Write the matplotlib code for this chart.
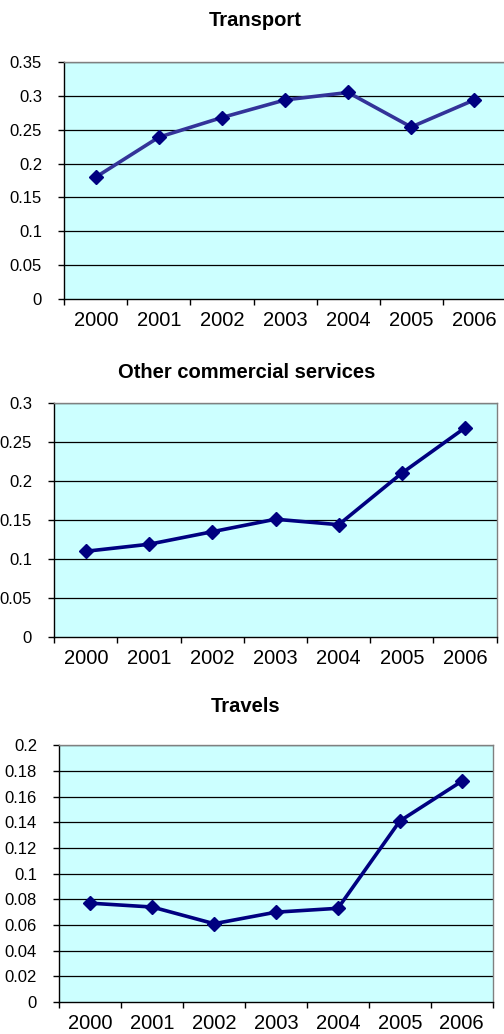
import numpy as np
import matplotlib.pyplot as plt

plt.rcParams['font.family'] = ['Liberation Sans', 'DejaVu Sans']

years = ['2000', '2001', '2002', '2003', '2004', '2005', '2006']

transport = [0.18, 0.239, 0.268, 0.294, 0.305, 0.254, 0.294]
other_services = [0.11, 0.119, 0.135, 0.151, 0.144, 0.21, 0.268]
travels = [0.077, 0.074, 0.061, 0.07, 0.073, 0.141, 0.172]

titles = ['Transport', 'Other commercial services', 'Travels']
series = [transport, other_services, travels]
y_max = [0.35, 0.3, 0.2]
y_step = [0.05, 0.05, 0.02]
line_colors = ['#333399', '#000080', '#000080']

W, H = 504, 1034
# plot area boxes in pixels: left, right, top, bottom
boxes = [(64.3, 505.8, 62, 299),
         (54.3, 496.7, 402.7, 637.3),
         (59.3, 492.7, 745.3, 1002)]
title_pos = [(255, 20), (247, 372), (246, 706)]

fig = plt.figure(figsize=(W / 100, H / 100), dpi=100)

for i in range(3):
    l, r, t, b = boxes[i]
    ax = fig.add_axes([l / W, 1 - b / H, (r - l) / W, (b - t) / H])
    ax.set_facecolor('#ccffff')
    x = np.arange(len(years))
    ax.plot(x, series[i], color=line_colors[i], lw=2.6, marker='D',
            markersize=7.5, markerfacecolor='#000080', markeredgecolor='#000080',
            zorder=3)
    ax.set_xlim(-0.5, len(years) - 0.5)
    ax.set_ylim(0, y_max[i])
    yt = np.round(np.arange(0, y_max[i] + 1e-9, y_step[i]), 3)
    ax.set_yticks(yt)
    ax.set_yticklabels([f'{v:g}' for v in yt])
    for v in yt[1:]:
        ax.axhline(v, color='#000000', lw=0.9, zorder=1)
    ax.set_xticks(x)
    ax.set_xticklabels(years)
    ax.set_xticks(np.arange(-0.5, len(years)), minor=True)
    ax.tick_params(axis='x', which='major', length=0, pad=8.5, labelsize=14.5)
    ax.tick_params(axis='x', which='minor', length=4, width=1, direction='out')
    ax.tick_params(axis='y', length=4, width=1, direction='out', pad=12,
                   labelsize=12)
    for s in ['left', 'bottom']:
        ax.spines[s].set_color('#000000')
        ax.spines[s].set_linewidth(1)
    for s in ['top', 'right']:
        ax.spines[s].set_color('#808080')
        ax.spines[s].set_linewidth(1)
    tx, ty = title_pos[i]
    fig.text(tx / W, 1 - ty / H, titles[i], ha='center', va='center',
             fontsize=14.5, fontweight='bold')

fig.savefig('out.png', dpi=100, facecolor='white')
